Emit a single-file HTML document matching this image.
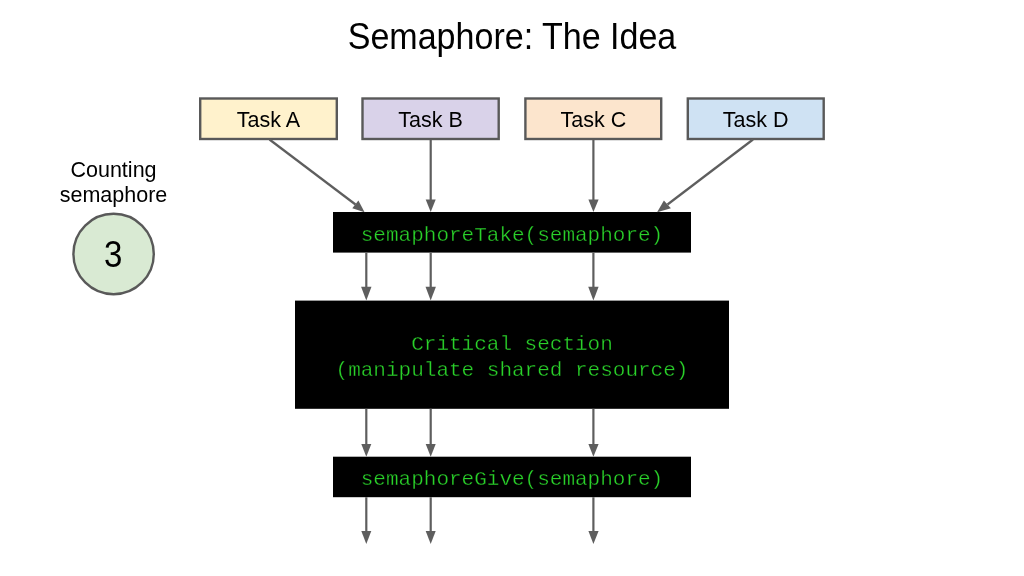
<!DOCTYPE html>
<html><head><meta charset="utf-8">
<style>
html,body{margin:0;padding:0;background:#fff;}
body{width:1024px;height:576px;overflow:hidden;}
svg{display:block;will-change:transform;}
.sans{font-family:"Liberation Sans",sans-serif;fill:#000;}
.mono{font-family:"Liberation Mono",monospace;fill:#2ad22a;stroke:#000;stroke-width:0.35px;}
</style></head><body>
<svg width="1024" height="576" viewBox="0 0 1024 576">
<rect x="0" y="0" width="1024" height="576" fill="#fff"/>
<text class="sans" transform="translate(512,48.6) scale(0.973,1.05)" font-size="35" text-anchor="middle">Semaphore: The Idea</text>

<g stroke="#595959" stroke-width="2.4">
<rect x="200.2" y="98.5" width="136.6" height="40.5" fill="#fff2cc"/>
<rect x="362.5" y="98.5" width="136.2" height="40.5" fill="#d9d2e9"/>
<rect x="525.4" y="98.5" width="135.8" height="40.5" fill="#fce5cd"/>
<rect x="687.8" y="98.5" width="135.9" height="40.5" fill="#cfe2f3"/>
<circle cx="113.6" cy="254" r="40.2" fill="#d9ead3"/>
</g>
<text class="sans" transform="translate(268.5,126.6) scale(1.025,1.09)" font-size="21" text-anchor="middle">Task A</text>
<text class="sans" transform="translate(430.6,126.6) scale(1.025,1.09)" font-size="21" text-anchor="middle">Task B</text>
<text class="sans" transform="translate(593.3,126.6) scale(1.025,1.09)" font-size="21" text-anchor="middle">Task C</text>
<text class="sans" transform="translate(755.7,126.6) scale(1.025,1.09)" font-size="21" text-anchor="middle">Task D</text>
<text class="sans" transform="translate(113.5,176.9) scale(1.025,1.09)" font-size="21" text-anchor="middle">Counting</text>
<text class="sans" transform="translate(113.5,201.6) scale(1.025,1.09)" font-size="21" text-anchor="middle">semaphore</text>
<text class="sans" transform="translate(113.2,266.8) scale(0.944,1.054)" font-size="35" text-anchor="middle">3</text>

<rect x="333" y="212" width="358" height="40.6" fill="#000"/>
<rect x="295" y="300.6" width="434" height="108.2" fill="#000"/>
<rect x="333" y="456.7" width="358" height="40.5" fill="#000"/>
<text class="mono" x="512" y="240.8" font-size="21" text-anchor="middle">semaphoreTake(semaphore)</text>
<text class="mono" x="512" y="350" font-size="21" text-anchor="middle">Critical section</text>
<text class="mono" x="512" y="375.8" font-size="21" text-anchor="middle">(manipulate shared resource)</text>
<text class="mono" x="512" y="484.7" font-size="21" text-anchor="middle">semaphoreGive(semaphore)</text>

<g stroke="#5e5e5e" stroke-width="2.2" fill="none">
<line x1="269.5" y1="139.5" x2="355.5" y2="204.5"/>
<line x1="430.7" y1="140" x2="430.7" y2="200"/>
<line x1="593.4" y1="140" x2="593.4" y2="200"/>
<line x1="753" y1="139.5" x2="667.5" y2="204.5"/>
<line x1="366.3" y1="252.6" x2="366.3" y2="288"/>
<line x1="430.7" y1="252.6" x2="430.7" y2="288"/>
<line x1="593.4" y1="252.6" x2="593.4" y2="288"/>
<line x1="366.3" y1="408.8" x2="366.3" y2="445"/>
<line x1="430.7" y1="408.8" x2="430.7" y2="445"/>
<line x1="593.4" y1="408.8" x2="593.4" y2="445"/>
<line x1="366.3" y1="497.2" x2="366.3" y2="533"/>
<line x1="430.7" y1="497.2" x2="430.7" y2="533"/>
<line x1="593.4" y1="497.2" x2="593.4" y2="533"/>
</g>
<g fill="#5e5e5e">
<polygon points="364.6,212.2 358.4,200.5 352.3,208.3"/>
<polygon points="657.1,212.2 663.9,200.5 670.9,208.3"/>
<polygon points="425.7,199.5 435.7,199.5 430.7,212"/>
<polygon points="588.4,199.5 598.6,199.5 593.4,212"/>
<polygon points="361.1,286.8 371.5,286.8 366.3,300.4"/>
<polygon points="425.5,286.8 435.9,286.8 430.7,300.4"/>
<polygon points="588.2,286.8 598.6,286.8 593.4,300.4"/>
<polygon points="361.3,444 371.3,444 366.3,456.7"/>
<polygon points="425.7,444 435.7,444 430.7,456.7"/>
<polygon points="588.4,444 598.6,444 593.4,456.7"/>
<polygon points="361.3,531 371.3,531 366.3,544"/>
<polygon points="425.7,531 435.7,531 430.7,544"/>
<polygon points="588.4,531 598.6,531 593.4,544"/>
</g>
</svg>
</body></html>
